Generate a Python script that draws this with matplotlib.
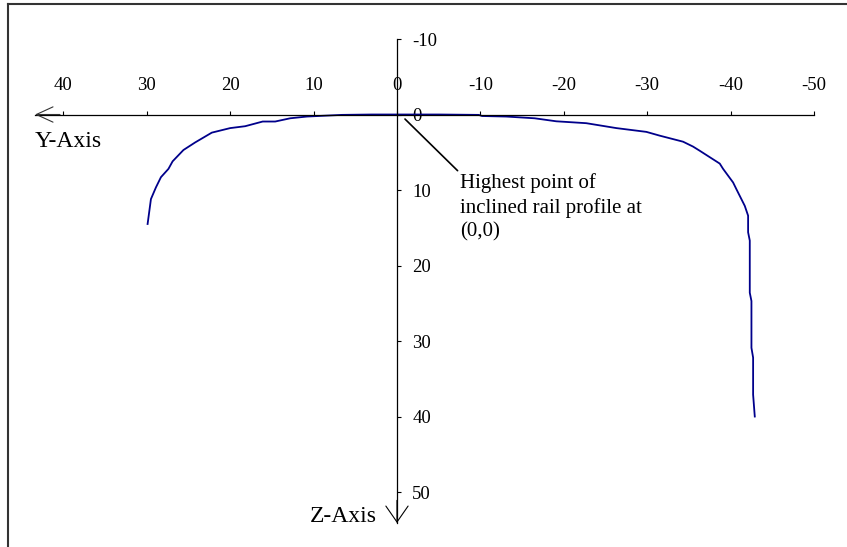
import matplotlib
matplotlib.use("Agg")
import matplotlib.pyplot as plt
from matplotlib.lines import Line2D

plt.rcParams['font.family'] = ['Liberation Serif', 'DejaVu Serif']
plt.rcParams['axes.unicode_minus'] = False

# rail profile, lateral Y vs vertical Z (mm)
y_vals = [29.9, 29.5, 28.9, 28.3, 27.4, 26.9, 25.6, 24.2, 22.2, 20.0, 18.2,
          16.1, 14.6, 12.8, 10.8, 6.6, 3.0, 0.0, -5.0, -9.8, -10.2, -13.1,
          -16.5, -19.1, -22.7, -26.3, -29.9, -31.5, -34.3, -35.5, -36.3,
          -38.7, -39.1, -40.3, -40.7, -41.7, -42.1, -42.1, -42.3, -42.3,
          -42.5, -42.5, -42.7, -42.7, -42.9]
z_vals = [14.5, 11.2, 9.65, 8.3, 7.2, 6.2, 4.7, 3.7, 2.4, 1.8, 1.55,
          0.93, 0.93, 0.5, 0.27, 0.05, 0.0, 0.0, 0.0, 0.05, 0.2, 0.27,
          0.5, 0.9, 1.15, 1.8, 2.3, 2.8, 3.6, 4.25, 4.8,
          6.5, 7.2, 9.0, 9.9, 12.1, 13.4, 15.6, 16.7, 23.6,
          24.7, 30.9, 32.2, 37.1, 40.0]

x_ticks = [40, 30, 20, 10, 0, -10, -20, -30, -40, -50]
z_ticks = [-10, 0, 10, 20, 30, 40, 50]

x_lim = (43.4, -50)
z_lim = (54.1, -10)

fig = plt.figure(figsize=(8.47, 5.47), dpi=100)
ax = fig.add_axes([35 / 847, 1 - 523 / 547, 779 / 847, 484 / 547])
ax.set_facecolor('none')

ax.plot(y_vals, z_vals, color='#00008B', lw=1.3, solid_joinstyle='round')

ax.set_xlim(*x_lim)
ax.set_ylim(*z_lim)

# axes through the origin
for s in ['left', 'bottom']:
    ax.spines[s].set_visible(False)
ax.spines['top'].set_position(('data', 0))
ax.spines['right'].set_position(('data', 0))
ax.spines['top'].set_linewidth(0.9)
ax.spines['right'].set_linewidth(0.9)
ax.xaxis.set_ticks_position('top')
ax.yaxis.set_ticks_position('right')
ax.set_xticks(x_ticks)
ax.set_yticks(z_ticks)
ax.tick_params(axis='x', direction='out', length=3, width=0.8, pad=12,
               labelsize=13.5)
ax.tick_params(axis='y', direction='out', length=3, width=0.8, pad=8,
               labelsize=13.5)

# arrowheads
ax.annotate('', xy=(x_lim[0], 0), xytext=(x_lim[0] - 3, 0),
            arrowprops=dict(arrowstyle='->,head_length=1.2,head_width=0.55',
                            lw=0.8, color='#333333', shrinkA=0, shrinkB=0))
ax.annotate('', xy=(0, z_lim[0]), xytext=(0, z_lim[0] - 3),
            arrowprops=dict(arrowstyle='->,head_length=1.15,head_width=0.8',
                            lw=0.8, color='black', shrinkA=0, shrinkB=0))

ax.text(x_lim[0], 3.6, 'Y-Axis', ha='left', va='center', fontsize=17)
ax.text(2.4, 53.3, 'Z-Axis', ha='right', va='center', fontsize=17)

ax.annotate('Highest point of\ninclined rail profile at\n(0,0)',
            xy=(-0.96, 0.6), xytext=(-7.6, 7.8), ha='left', va='top',
            fontsize=15, linespacing=1.3,
            arrowprops=dict(arrowstyle='-', color='black', lw=1.2,
                            relpos=(0, 1), shrinkA=0, shrinkB=0))

# outer frame (top and left edges visible)
fig.add_artist(Line2D([8 / 847, 1.0], [1 - 4 / 547, 1 - 4 / 547],
                      transform=fig.transFigure, color='#333333', lw=1.5))
fig.add_artist(Line2D([8 / 847, 8 / 847], [0.0, 1 - 4 / 547],
                      transform=fig.transFigure, color='#333333', lw=1.5))

fig.savefig('out.png', dpi=100, facecolor='white')
